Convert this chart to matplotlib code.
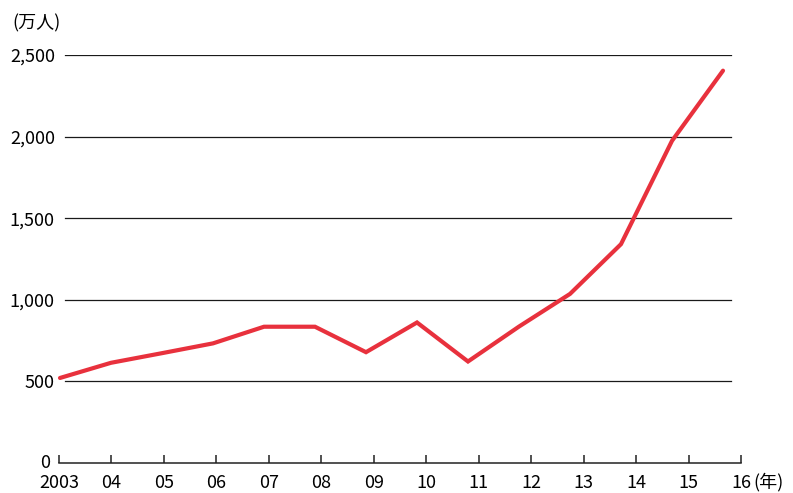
import matplotlib
matplotlib.use("Agg")
import matplotlib.pyplot as plt

plt.rcParams['font.family'] = ['Noto Sans CJK JP', 'DejaVu Sans']

# Foreign visitors (10,000 persons), 2003-2016
years = [2003, 2004, 2005, 2006, 2007, 2008, 2009, 2010, 2011, 2012, 2013, 2014, 2015, 2016]
visitors = [521, 614, 673, 733, 835, 835, 679, 861, 622, 836, 1036, 1341, 1974, 2404]
x_labels = ["2003", "04", "05", "06", "07", "08", "09", "10", "11", "12", "13", "14", "15", "16"]
y_ticks = [500, 1000, 1500, 2000, 2500]
y_labels = ["500", "1,000", "1,500", "2,000", "2,500"]

FS = 13
W, H = 793, 493
fig = plt.figure(figsize=(W / 100, H / 100), dpi=100)

ax_left, ax_right = 59, 741
ax_bottom, ax_top = 463, 55
pos = [ax_left / W, (H - ax_bottom) / H, (ax_right - ax_left) / W, (ax_bottom - ax_top) / H]

# axis carrying the year ticks and baseline
axt = fig.add_axes(pos)
n = len(years)
axt.set_xlim(0, n - 1)
axt.set_ylim(0, 2500)
axt.set_xticks(range(n))
axt.set_xticklabels(x_labels, fontsize=FS)
axt.tick_params(axis='x', direction='in', length=6, width=1.1, pad=8, color='#222222')
axt.set_yticks(y_ticks)
axt.set_yticklabels(y_labels, fontsize=FS)
axt.tick_params(axis='y', length=0, pad=3)
for s in ['top', 'right', 'left']:
    axt.spines[s].set_visible(False)
axt.spines['bottom'].set_linewidth(1.1)
axt.spines['bottom'].set_color('#222222')

for yv in y_ticks:
    axt.axhline(yv, xmin=0.009, xmax=0.985, color='#1a1a1a', lw=0.9)

# data axis: points run slightly tighter than the year ticks
ax = fig.add_axes(pos, sharey=axt)
ax.patch.set_visible(False)
step = (723 - 60) / (n - 1)
x0 = -(60 - ax_left) / step
ax.set_xlim(x0, x0 + (ax_right - ax_left) / step)
ax.plot(range(n), visitors, color='#e8313d', lw=3.0, solid_joinstyle='miter',
        solid_capstyle='round', clip_on=False, zorder=5)
ax.axis('off')

fig.text(50 / W, (H - 463) / H, "0", fontsize=FS, ha='right', va='center')
fig.text(12 / W, (H - 23) / H, "(万人)", fontsize=FS, ha='left', va='center')
fig.text(753 / W, (H - 482) / H, "(年)", fontsize=FS, ha='left', va='center')

fig.savefig("out.png", dpi=100, facecolor='white')
